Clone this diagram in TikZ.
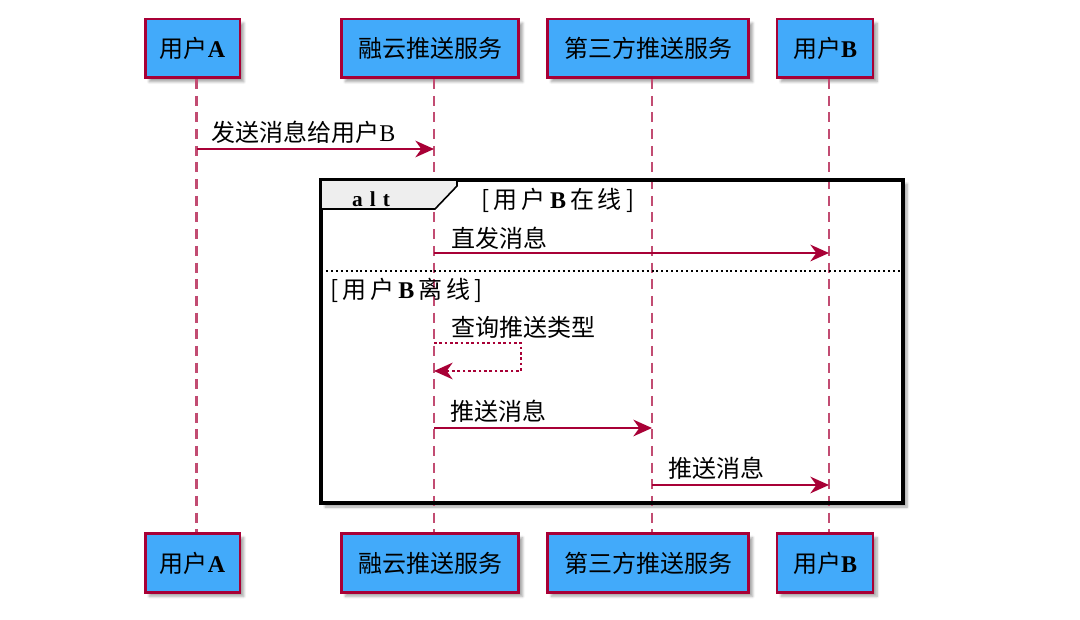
\documentclass[tikz,border=0pt]{standalone}
\usepackage{fontspec}
\setmainfont{Liberation Serif}
\newfontfamily\cjk{Noto Sans CJK SC}
\usetikzlibrary{arrows.meta,shadows.blur,calc}
\definecolor{crim}{HTML}{A80036}
\definecolor{boxblue}{RGB}{66,170,250}
\definecolor{tabgray}{HTML}{EEEEEE}
\begin{document}
\begin{tikzpicture}[x=0.75pt,y=-0.75pt,
  actor/.style={draw=crim, line width=2pt, fill=boxblue, minimum height=44pt,
    inner sep=0pt, font=\fontsize{18}{21}\selectfont,
    blur shadow={shadow xshift=3pt, shadow yshift=-3pt, shadow opacity=35, shadow blur steps=6}},
  life/.style={draw=crim!70, line width=2pt, dash pattern=on 7.5pt off 5pt},
  msg/.style={draw=crim, line width=1.5pt, -{Stealth[length=14pt,width=12.5pt,inset=4.5pt]}},
  selfmsg/.style={draw=crim, line width=1.5pt, dash pattern=on 2pt off 2pt, -{Stealth[length=14pt,width=12.5pt,inset=4.5pt]}},
  lbl/.style={anchor=west, inner sep=0pt, font=\fontsize{18}{21}\selectfont},
  guard/.style={inner sep=0pt, font=\fontsize{18}{21}\selectfont}
]
\useasboundingbox (0,0) rectangle (1080,620);

% alt frame
\draw[line width=2.4pt, fill=white,
  blur shadow={shadow xshift=3pt, shadow yshift=-3pt, shadow opacity=35, shadow blur steps=6}]
  (321,180) rectangle (903,503);

% participants
\node[actor, minimum width=71pt]   (aT) at (192.5,48.5) {{\cjk 用户}\textbf{A}};
\node[actor, minimum width=133pt]  (rT) at (430,48.5)   {\cjk 融云推送服务};
\node[actor, minimum width=151pt]  (tT) at (648,48.5)   {\cjk 第三方推送服务};
\node[actor, minimum width=72pt]   (bT) at (825,48.5)   {{\cjk 用户}\textbf{B}};
\node[actor, minimum width=71pt]   (aB) at (192.5,563) {{\cjk 用户}\textbf{A}};
\node[actor, minimum width=133pt]  (rB) at (430,563)   {\cjk 融云推送服务};
\node[actor, minimum width=151pt]  (tB) at (648,563)   {\cjk 第三方推送服务};
\node[actor, minimum width=72pt]   (bB) at (825,563)   {{\cjk 用户}\textbf{B}};

% lifelines
\draw[life] ([xshift=3pt]aT.south) -- ([xshift=3pt]aB.north);
\draw[life] ([xshift=3pt]rT.south) -- ([xshift=3pt]rB.north);
\draw[life] ([xshift=3pt]tT.south) -- ([xshift=3pt]tB.north);
\draw[life] ([xshift=3pt]bT.south) -- ([xshift=3pt]bB.north);

% frame border on top of lifelines
\draw[line width=2.4pt] (321,180) rectangle (903,503);
\draw[line width=1.2pt, fill=tabgray] (321,180) -- (457,180) -- (457,186) -- (435,209) -- (321,209) -- cycle;
\node[inner sep=0pt, font=\fontsize{16}{20}\selectfont\bfseries] (alt) at (371,199) {a\,\,l\,\,t};
\node[guard] (g1) at (558,200) {{\cjk [\,用\,户\,}\textbf{B}{\cjk \,在\,线\,]}};
\draw[line width=1.2pt, dash pattern=on 1.5pt off 2.2pt] (321,271) -- (903,271);
\node[guard, anchor=west] (g2) at (330,290) {{\cjk [\,用\,户\,}\textbf{B}{\cjk \,离\,线\,]}};

% message endpoints
\coordinate (m1a) at (197,149);  \coordinate (m1b) at (434,149);
\coordinate (m2a) at (434,253);  \coordinate (m2b) at (829,253);
\coordinate (s1) at (434,343);   \coordinate (s2) at (521,343);
\coordinate (s3) at (521,371);   \coordinate (s4) at (434,371);
\coordinate (m4a) at (434,428);  \coordinate (m4b) at (652,428);
\coordinate (m5a) at (652,485);  \coordinate (m5b) at (829,485);

\draw[msg] (m1a) -- (m1b);
\node[lbl] (l1) at (211,132) {{\cjk 发送消息给用户}B};
\draw[msg] (m2a) -- (m2b);
\node[lbl] (l2) at (451,238) {\cjk 直发消息};
\draw[selfmsg] (s1) -- (s2) -- (s3) -- (s4);
\node[lbl] (l3) at (451,327) {\cjk 查询推送类型};
\draw[msg] (m4a) -- (m4b);
\node[lbl] (l4) at (450,411) {\cjk 推送消息};
\draw[msg] (m5a) -- (m5b);
\node[lbl] (l5) at (668,468) {\cjk 推送消息};
\end{tikzpicture}
\end{document}
